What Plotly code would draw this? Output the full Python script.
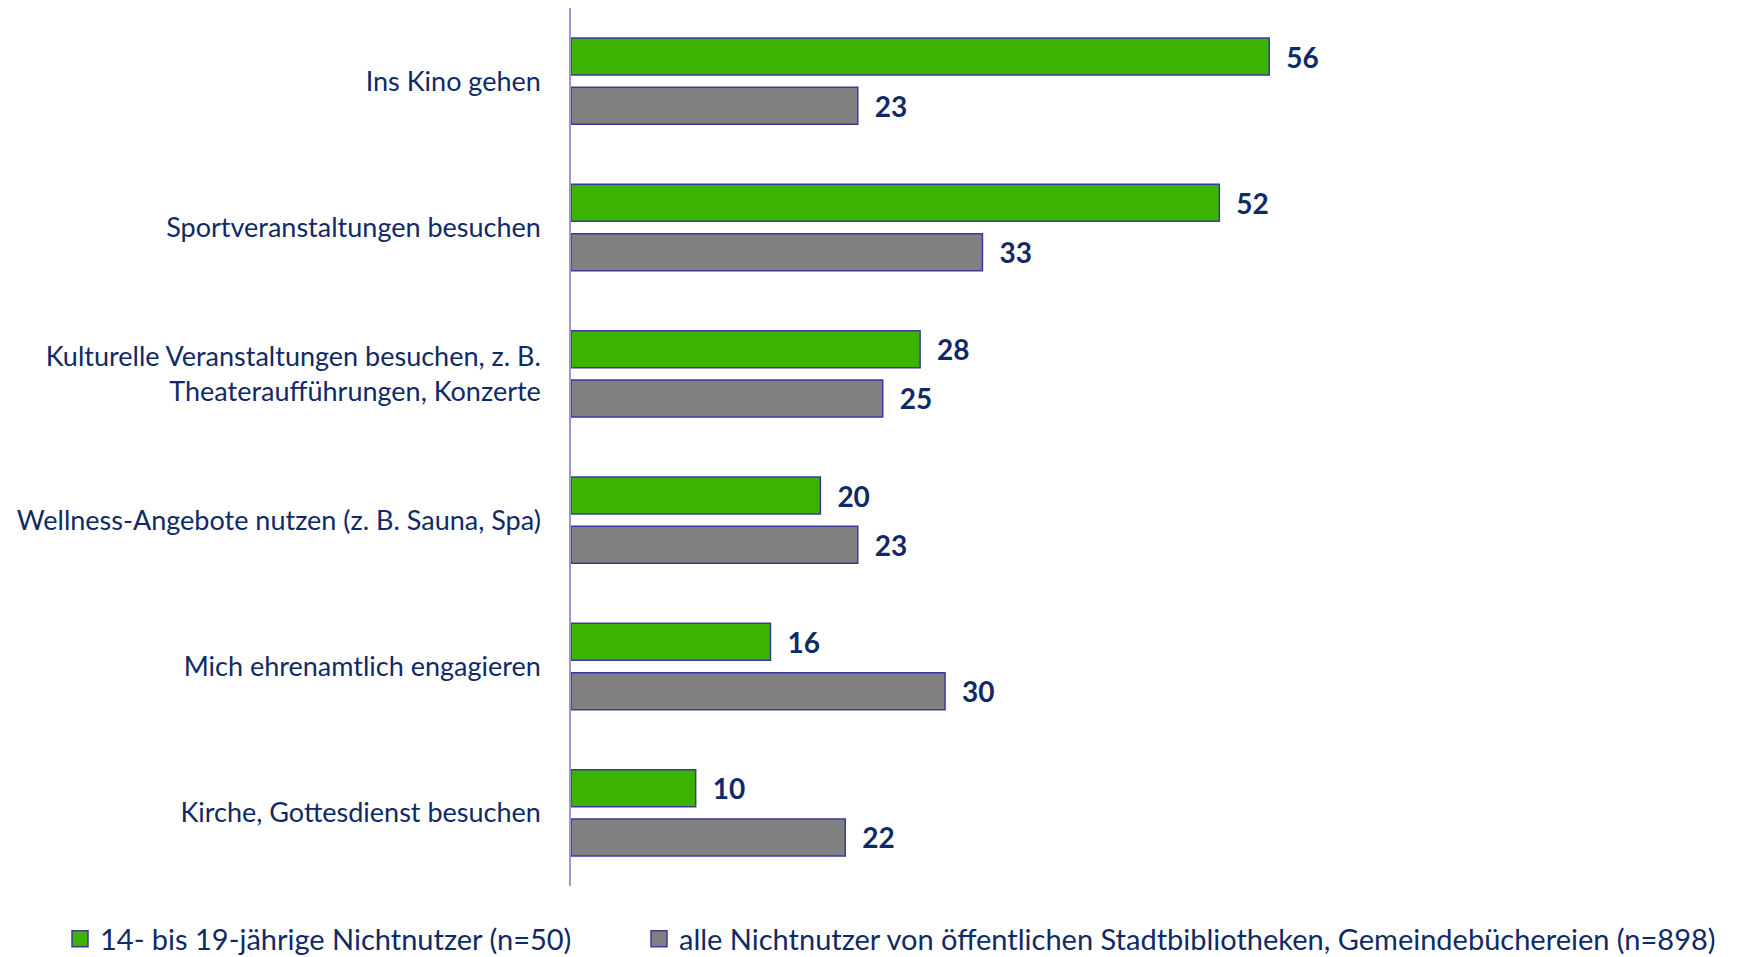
import plotly.graph_objects as go

categories = [
    "Ins Kino gehen",
    "Sportveranstaltungen besuchen",
    "Kulturelle Veranstaltungen besuchen, z. B.<br>Theateraufführungen, Konzerte",
    "Wellness-Angebote nutzen (z. B. Sauna, Spa)",
    "Mich ehrenamtlich engagieren",
    "Kirche, Gottesdienst besuchen",
]
teens = [56, 52, 28, 20, 16, 10]
all_nonusers = [23, 33, 25, 23, 30, 22]
series_names = [
    "14- bis 19-jährige Nichtnutzer (n=50)",
    "alle Nichtnutzer von öffentlichen Stadtbibliotheken, Gemeindebüchereien (n=898)",
]

NAVY = "#0F2A66"
OUTLINE = "#3A3A9E"
FONT = "Lato"

fig = go.Figure()
for vals, name, color, lg in [(teens, series_names[0], "#3CB300", "legend"),
                              (all_nonusers, series_names[1], "#808080", "legend2")]:
    fig.add_trace(go.Bar(
        y=categories, x=vals, name=name, orientation="h", showlegend=False,
        marker=dict(color=color, line=dict(color=OUTLINE, width=1.5)),
        text=[f"\u2002{v}" for v in vals], textposition="outside",
        textfont=dict(family=FONT, size=28, color=NAVY, weight="bold"),
        cliponaxis=False,
    ))
    # legend-only square swatch, larger than the default bar swatch
    fig.add_trace(go.Scatter(
        x=[None], y=[None], mode="markers", name=name, legend=lg,
        marker=dict(symbol="square", size=16, color=color,
                    line=dict(color=OUTLINE, width=1.5)),
    ))

legend_style = dict(
    orientation="h", xref="container", yref="container",
    y=0.054, yanchor="top", xanchor="left",
    font=dict(family=FONT, size=29, color=NAVY),
    bgcolor="rgba(0,0,0,0)", itemsizing="trace",
)

fig.update_layout(
    width=1760, height=957,
    margin=dict(l=563, r=15, t=0, b=79, autoexpand=False),
    plot_bgcolor="white", paper_bgcolor="white",
    barmode="group", bargap=0.326, bargroupgap=0.25,
    font=dict(family=FONT, color=NAVY),
    showlegend=True,
    legend=dict(legend_style, x=52 / 1760),
    legend2=dict(legend_style, x=631 / 1760),
)
fig.update_xaxes(range=[0, 94.8], visible=False, showgrid=False)
fig.update_yaxes(
    autorange=False, range=[5.5, -0.5],
    showline=True, linecolor="#9A98CF", linewidth=1.5,
    showgrid=False, ticks="", ticklabelstandoff=23,
    tickfont=dict(family=FONT, size=27, color=NAVY),
)

fig.write_html("out.html")
